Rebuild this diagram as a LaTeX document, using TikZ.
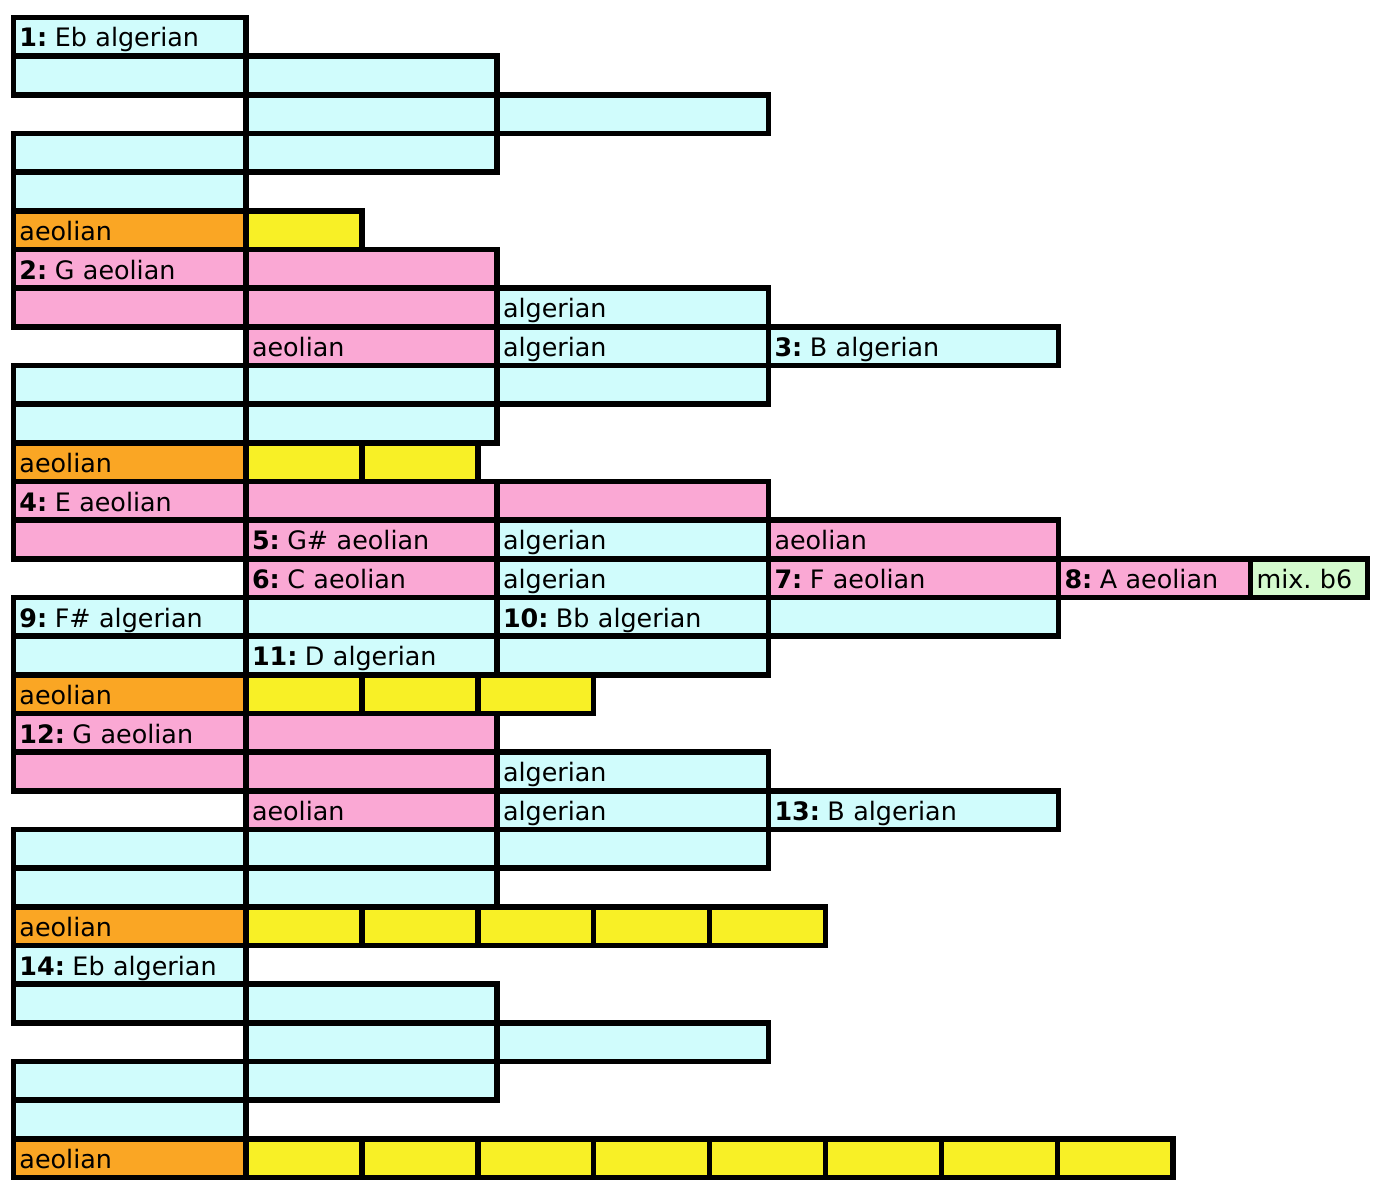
\documentclass[tikz,border=0pt]{standalone}
\usepackage{fontspec}
\setmainfont{DejaVu Sans}
\definecolor{cyanc}{RGB}{208,252,252}
\definecolor{pinkc}{RGB}{250,168,212}
\definecolor{orangec}{RGB}{250,166,36}
\definecolor{yellowc}{RGB}{248,240,38}
\definecolor{greenc}{RGB}{212,250,206}
\tikzset{
  cellbox/.style={draw=black, line width=5.5pt, rectangle, inner xsep=6pt, inner ysep=0pt,
    outer sep=0pt, minimum height=38.667pt, text height=24pt, text depth=3.67pt,
    font=\fontsize{25.4}{29}\selectfont\frenchspacing, align=left},
  cyanbox/.style={cellbox, fill=cyanc},
  pinkbox/.style={cellbox, fill=pinkc},
  orangebox/.style={cellbox, fill=orangec},
  yellowbox/.style={cellbox, fill=yellowc},
  greenbox/.style={cellbox, fill=greenc},
}
\newcommand\pre[1]{\textbf{#1}\kern-1pt\ \ignorespaces}
% #1 name, #2 left x, #3 right x, #4 row index, #5 style, #6 text
\newcommand\cell[6]{%
  \pgfmathsetmacro\cw{#3-#2}%
  \pgfmathsetmacro\tw{#3-#2-12}%
  \pgfmathsetmacro\cy{17.5+38.667*#4}%
  \node[#5, minimum width=\cw pt, text width=\tw pt, anchor=north west] (#1) at (#2,\cy) {#6};}
\newcommand\yrow[2]{%
  \foreach \k in {1,...,#2}{%
    \pgfmathsetmacro\xa{246+115.9*(\k-1)}%
    \pgfmathsetmacro\xb{246+115.9*\k}%
    \cell{r#1y\k}{\xa}{\xb}{#1}{yellowbox}{}}}
\def\XA{13.5}\def\XB{246}\def\XC{497}\def\XD{768.5}\def\XE{1058.5}\def\XF{1250.5}\def\XG{1367.5}
\begin{document}
\begin{tikzpicture}[x=1pt,y=-1pt]
\useasboundingbox (0,0) rectangle (1384,1196);
% block 1
\cell{r0a}{\XA}{\XB}{0}{cyanbox}{\pre{1:}Eb algerian}
\cell{r1a}{\XA}{\XB}{1}{cyanbox}{}
\cell{r1b}{\XB}{\XC}{1}{cyanbox}{}
\cell{r2b}{\XB}{\XC}{2}{cyanbox}{}
\cell{r2c}{\XC}{\XD}{2}{cyanbox}{}
\cell{r3a}{\XA}{\XB}{3}{cyanbox}{}
\cell{r3b}{\XB}{\XC}{3}{cyanbox}{}
\cell{r4a}{\XA}{\XB}{4}{cyanbox}{}
\cell{r5a}{\XA}{\XB}{5}{orangebox}{aeolian}
\yrow{5}{1}
% block 2
\cell{r6a}{\XA}{\XB}{6}{pinkbox}{\pre{2:}G aeolian}
\cell{r6b}{\XB}{\XC}{6}{pinkbox}{}
\cell{r7a}{\XA}{\XB}{7}{pinkbox}{}
\cell{r7b}{\XB}{\XC}{7}{pinkbox}{}
\cell{r7c}{\XC}{\XD}{7}{cyanbox}{algerian}
\cell{r8b}{\XB}{\XC}{8}{pinkbox}{aeolian}
\cell{r8c}{\XC}{\XD}{8}{cyanbox}{algerian}
\cell{r8d}{\XD}{\XE}{8}{cyanbox}{\pre{3:}B algerian}
\cell{r9a}{\XA}{\XB}{9}{cyanbox}{}
\cell{r9b}{\XB}{\XC}{9}{cyanbox}{}
\cell{r9c}{\XC}{\XD}{9}{cyanbox}{}
\cell{r10a}{\XA}{\XB}{10}{cyanbox}{}
\cell{r10b}{\XB}{\XC}{10}{cyanbox}{}
\cell{r11a}{\XA}{\XB}{11}{orangebox}{aeolian}
\yrow{11}{2}
% block 3
\cell{r12a}{\XA}{\XB}{12}{pinkbox}{\pre{4:}E aeolian}
\cell{r12b}{\XB}{\XC}{12}{pinkbox}{}
\cell{r12c}{\XC}{\XD}{12}{pinkbox}{}
\cell{r13a}{\XA}{\XB}{13}{pinkbox}{}
\cell{r13b}{\XB}{\XC}{13}{pinkbox}{\pre{5:}G\# aeolian}
\cell{r13c}{\XC}{\XD}{13}{cyanbox}{algerian}
\cell{r13d}{\XD}{\XE}{13}{pinkbox}{aeolian}
\cell{r14b}{\XB}{\XC}{14}{pinkbox}{\pre{6:}C aeolian}
\cell{r14c}{\XC}{\XD}{14}{cyanbox}{algerian}
\cell{r14d}{\XD}{\XE}{14}{pinkbox}{\pre{7:}F aeolian}
\cell{r14e}{\XE}{\XF}{14}{pinkbox}{\pre{8:}A aeolian}
\cell{r14f}{\XF}{\XG}{14}{greenbox}{mix. b6}
\cell{r15a}{\XA}{\XB}{15}{cyanbox}{\pre{9:}F\# algerian}
\cell{r15b}{\XB}{\XC}{15}{cyanbox}{}
\cell{r15c}{\XC}{\XD}{15}{cyanbox}{\pre{10:}Bb algerian}
\cell{r15d}{\XD}{\XE}{15}{cyanbox}{}
\cell{r16a}{\XA}{\XB}{16}{cyanbox}{}
\cell{r16b}{\XB}{\XC}{16}{cyanbox}{\pre{11:}D algerian}
\cell{r16c}{\XC}{\XD}{16}{cyanbox}{}
\cell{r17a}{\XA}{\XB}{17}{orangebox}{aeolian}
\yrow{17}{3}
% block 4
\cell{r18a}{\XA}{\XB}{18}{pinkbox}{\pre{12:}G aeolian}
\cell{r18b}{\XB}{\XC}{18}{pinkbox}{}
\cell{r19a}{\XA}{\XB}{19}{pinkbox}{}
\cell{r19b}{\XB}{\XC}{19}{pinkbox}{}
\cell{r19c}{\XC}{\XD}{19}{cyanbox}{algerian}
\cell{r20b}{\XB}{\XC}{20}{pinkbox}{aeolian}
\cell{r20c}{\XC}{\XD}{20}{cyanbox}{algerian}
\cell{r20d}{\XD}{\XE}{20}{cyanbox}{\pre{13:}B algerian}
\cell{r21a}{\XA}{\XB}{21}{cyanbox}{}
\cell{r21b}{\XB}{\XC}{21}{cyanbox}{}
\cell{r21c}{\XC}{\XD}{21}{cyanbox}{}
\cell{r22a}{\XA}{\XB}{22}{cyanbox}{}
\cell{r22b}{\XB}{\XC}{22}{cyanbox}{}
\cell{r23a}{\XA}{\XB}{23}{orangebox}{aeolian}
\yrow{23}{5}
% block 5
\cell{r24a}{\XA}{\XB}{24}{cyanbox}{\pre{14:}Eb algerian}
\cell{r25a}{\XA}{\XB}{25}{cyanbox}{}
\cell{r25b}{\XB}{\XC}{25}{cyanbox}{}
\cell{r26b}{\XB}{\XC}{26}{cyanbox}{}
\cell{r26c}{\XC}{\XD}{26}{cyanbox}{}
\cell{r27a}{\XA}{\XB}{27}{cyanbox}{}
\cell{r27b}{\XB}{\XC}{27}{cyanbox}{}
\cell{r28a}{\XA}{\XB}{28}{cyanbox}{}
\cell{r29a}{\XA}{\XB}{29}{orangebox}{aeolian}
\yrow{29}{8}
\end{tikzpicture}
\end{document}
